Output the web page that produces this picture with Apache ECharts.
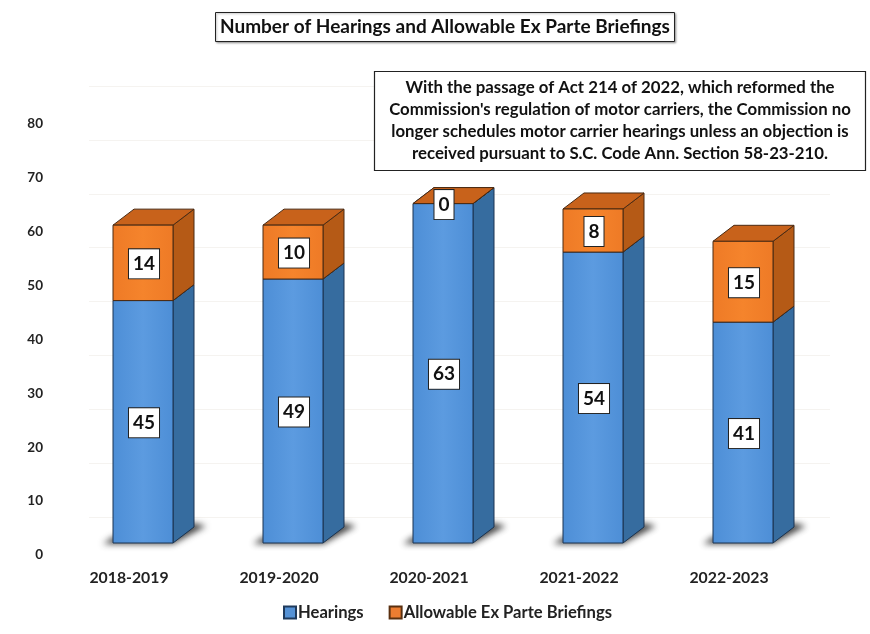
<!DOCTYPE html>
<html>
<head>
<meta charset="utf-8">
<style>html,body{margin:0;padding:0;background:#fff}#c{width:870px;height:634px}</style>
<script src="https://cdn.jsdelivr.net/npm/echarts@6/dist/echarts.min.js"></script>
</head>
<body>
<div id="c"></div>
<script>
const categories = ['2018-2019', '2019-2020', '2020-2021', '2021-2022', '2022-2023'];
const hearings = [45, 49, 63, 54, 41];
const briefings = [14, 10, 0, 8, 15];
const titleText = 'Number of Hearings and Allowable Ex Parte Briefings';
const noteLines = [
  'With the passage of Act 214 of 2022, which reformed the',
  "Commission's regulation of motor carriers, the Commission no",
  'longer schedules motor carrier hearings unless an objection is',
  'received pursuant to S.C. Code Ann. Section 58-23-210.'
];

const FONT = 'Lato, "Open Sans", sans-serif';
const DX = 21, DY = 16, OFF = 1500;

function face(points, fill, stroke) {
  return { type: 'polygon', shape: { points }, style: { fill, stroke, lineWidth: 1 } };
}
function hGrad(a, b, c) {
  return new echarts.graphic.LinearGradient(0, 0, 1, 0, [
    { offset: 0, color: a }, { offset: 0.5, color: b }, { offset: 1, color: c }
  ]);
}
function barRender(colors, withShadow) {
  return function (params, api) {
    const i = api.value(0);
    const w = api.size([1, 0])[0] * 0.4;
    const pBase = api.coord([i, api.value(1)]);
    const pTop = api.coord([i, api.value(2)]);
    const l = pBase[0] - w / 2, r = pBase[0] + w / 2, b = pBase[1], t = pTop[1];
    const children = [];
    if (withShadow) {
      children.push({
        type: 'polygon',
        shape: { points: [[l - 10 - OFF, b + 1], [r - OFF, b + 1], [r + DX + 12 - OFF, b - DY - 1], [r + DX - OFF, b - DY - 4], [l - OFF, b - 6]] },
        style: { fill: '#000', shadowBlur: 6, shadowColor: 'rgba(40,40,40,0.85)', shadowOffsetX: OFF }
      });
    }
    children.push(face([[r, b], [r + DX, b - DY], [r + DX, t - DY], [r, t]], colors.side, colors.line));
    children.push(face([[l, t], [r, t], [r + DX, t - DY], [l + DX, t - DY]], colors.top, colors.line));
    if (b > t) {
      children.push(face([[l, b], [r, b], [r, t], [l, t]], hGrad(colors.f1, colors.f2, colors.f1), colors.line));
    }
    children.push({
      type: 'text',
      z2: 10,
      style: {
        x: pBase[0] + 1, y: (b + t) / 2 + 1,
        text: String(api.value(3)),
        align: 'center', verticalAlign: 'middle',
        font: 'bold 19px ' + FONT, fill: '#111',
        backgroundColor: '#fff', borderColor: '#222', borderWidth: 1,
        padding: [5, 4, 5, 4]
      }
    });
    return { type: 'group', children };
  };
}

const chart = echarts.init(document.getElementById('c'), null, { renderer: 'canvas' });
chart.setOption({
  animation: false,
  backgroundColor: '#fff',
  title: {
    text: titleText,
    left: 215, top: 13,
    padding: [5, 5, 5, 5],
    borderColor: '#222', borderWidth: 1, backgroundColor: '#fff',
    shadowColor: 'rgba(0,0,0,0.3)', shadowBlur: 2, shadowOffsetX: 1, shadowOffsetY: 1,
    textStyle: { fontFamily: FONT, fontSize: 19, fontWeight: 'bold', color: '#111', lineHeight: 18 }
  },
  legend: {
    data: ['Hearings', 'Allowable Ex Parte Briefings'],
    left: 278, top: 599,
    itemWidth: 12, itemHeight: 12, itemGap: 25,
    icon: 'rect',
    textStyle: { fontFamily: FONT, fontSize: 16.6, fontWeight: 'bold', color: '#222', padding: [0, 0, 0, -3] }
  },
  grid: [
    { left: 68, width: 750, top: 112, height: 431 },
    { left: 89, width: 741, top: 86, height: 431 },
    { left: 68, width: 750, top: 124, height: 431 }
  ],
  xAxis: [
    { type: 'category', gridIndex: 0, data: categories,
      axisLine: { show: false }, axisTick: { show: false },
      axisLabel: { margin: 27, fontFamily: FONT, fontSize: 15.8, fontWeight: 'bold', color: '#222', padding: [0, 28, 0, 0] } },
    { type: 'category', gridIndex: 1, data: categories, show: false },
    { type: 'category', gridIndex: 2, data: categories, show: false }
  ],
  yAxis: [
    { type: 'value', gridIndex: 0, min: 0, max: 80, interval: 10, show: false },
    { type: 'value', gridIndex: 1, min: 0, max: 80, interval: 10,
      axisLine: { show: false }, axisTick: { show: false }, axisLabel: { show: false },
      splitLine: { show: true, lineStyle: { color: '#f5f3f0', width: 1 } } },
    { type: 'value', gridIndex: 2, min: 0, max: 80, interval: 10,
      axisLine: { show: false }, axisTick: { show: false }, splitLine: { show: false },
      axisLabel: { margin: 25, fontFamily: FONT, fontSize: 13.5, fontWeight: 'bold', color: '#222' } }
  ],
  series: [
    {
      name: 'Hearings', type: 'custom', xAxisIndex: 0, yAxisIndex: 0, z: 3,
      itemStyle: { color: '#5592d6', borderColor: '#1f3a5c', borderWidth: 1 },
      renderItem: barRender({ f1: '#4d8ed6', f2: '#5c9be0', side: '#366c9f', top: '#4d8ed6', line: '#1a3350' }, true),
      data: categories.map((c, i) => [i, 0, hearings[i], hearings[i]])
    },
    {
      name: 'Allowable Ex Parte Briefings', type: 'custom', xAxisIndex: 0, yAxisIndex: 0, z: 4,
      itemStyle: { color: '#ed7d31', borderColor: '#5a3010', borderWidth: 1 },
      renderItem: barRender({ f1: '#ee7a26', f2: '#f5842c', side: '#b55a16', top: '#c8621b', line: '#4a2a12' }, false),
      data: categories.map((c, i) => [i, hearings[i], hearings[i] + briefings[i], briefings[i]])
    }
  ],
  graphic: [
    { type: 'rect', z: 20, shape: { x: 374.5, y: 71.5, width: 491, height: 99 },
      style: { fill: '#fff', stroke: '#222', lineWidth: 1.2 } },
    { type: 'text', z: 21, x: 620, y: 121,
      style: { text: noteLines.join('\n'), align: 'center', verticalAlign: 'middle',
        font: 'bold 16.8px ' + FONT, lineHeight: 22, fill: '#111' } }
  ]
});
</script>
</body>
</html>
